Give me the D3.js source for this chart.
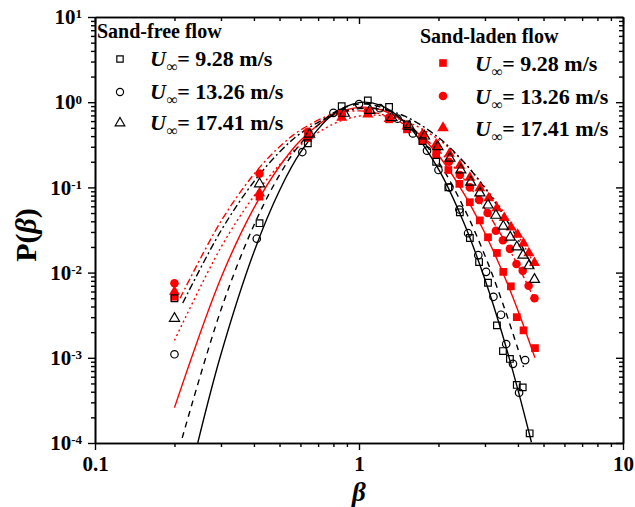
<!DOCTYPE html>
<html>
<head>
<meta charset="utf-8">
<script src="https://cdn.jsdelivr.net/npm/d3@7"></script>
<style>
  body { margin: 0; background: #fff; }
  svg { display: block; font-family: "Liberation Serif", "Times New Roman", serif; font-weight: bold; }
</style>
</head>
<body>
<svg id="chart" width="635" height="507"></svg>
<script>
/* global d3 */

// ---- data ----
const speeds = ['9.28', '13.26', '17.41'];

// sand-free flow (open markers)
const betaFreeSq = [0.2, 0.42, 0.64, 0.86, 1.08, 1.30, 1.52, 1.74, 1.96, 2.18, 2.41, 2.63, 2.85, 3.08, 3.33, 3.51, 3.73, 3.96, 4.17, 4.43];
const pFreeSq = [0.005, 0.038, 0.33, 0.9, 1.05, 0.88, 0.55, 0.35, 0.20, 0.10, 0.051, 0.0255, 0.0133, 0.0076, 0.0024, 0.0012, 0.00097, 0.00048, 0.00045, 0.00013];

const betaFreeCi = [0.2, 0.41, 0.61, 0.80, 1.0, 1.2, 1.4, 1.6, 1.81, 2.0, 2.2, 2.4, 2.59, 2.83, 3.03, 3.23, 3.45, 3.61, 3.83, 4.04, 4.26];
const pFreeCi = [0.0011, 0.025, 0.26, 0.75, 0.95, 0.85, 0.64, 0.43, 0.27, 0.16, 0.10, 0.055, 0.029, 0.016, 0.0102, 0.0052, 0.0032, 0.00145, 0.00085, 0.00039, 0.00094];

const betaFreeTr = [0.2, 0.42, 0.65, 0.88, 1.1, 1.33, 1.55, 1.77, 1.99, 2.21, 2.43, 2.65, 2.87, 3.08, 3.30, 3.52, 3.74, 3.96, 4.18, 4.40, 4.62];
const pFreeTr = [0.0029, 0.11, 0.42, 0.74, 0.80, 0.66, 0.52, 0.40, 0.30, 0.22, 0.16, 0.115, 0.086, 0.062, 0.047, 0.035, 0.026, 0.020, 0.016, 0.012, 0.0083];

// sand-laden flow (filled red markers)
const betaSandSq = [0.2, 0.42, 0.64, 0.86, 1.08, 1.30, 1.52, 1.74, 1.96, 2.18, 2.40, 2.63, 2.87, 3.08, 3.33, 3.52, 3.76, 3.96, 4.2, 4.64];
const pSandSq = [0.0052, 0.078, 0.38, 0.74, 0.76, 0.63, 0.48, 0.35, 0.24, 0.16, 0.11, 0.067, 0.041, 0.026, 0.017, 0.0102, 0.0069, 0.0030, 0.0021, 0.0013];

const betaSandCi = [0.2, 0.42, 0.64, 0.86, 1.08, 1.30, 1.52, 1.75, 1.97, 2.19, 2.41, 2.63, 2.85, 3.07, 3.3, 3.51, 3.73, 3.95, 4.17, 4.39, 4.62];
const pSandCi = [0.0075, 0.145, 0.45, 0.72, 0.78, 0.66, 0.52, 0.41, 0.28, 0.20, 0.14, 0.10, 0.071, 0.05, 0.031, 0.024, 0.019, 0.0126, 0.0105, 0.007, 0.005];

const betaSandTr = [0.2, 0.42, 0.64, 0.86, 1.08, 1.30, 1.52, 1.74, 1.96, 2.2, 2.41, 2.63, 2.87, 3.1, 3.33, 3.55, 3.77, 3.99, 4.2, 4.4, 4.62];
const pSandTr = [0.006, 0.086, 0.40, 0.66, 0.72, 0.64, 0.52, 0.42, 0.32, 0.25, 0.18, 0.13, 0.098, 0.075, 0.057, 0.044, 0.034, 0.028, 0.022, 0.017, 0.013];

// fitted curves, points
const fitFreeSq = [[0.245, 1e-4], [0.3, 1.1e-3], [0.4, 0.0175], [0.5, 0.092], [0.6, 0.257], [0.8, 0.726], [1.0, 0.99], [1.2, 0.925], [1.5, 0.575], [2, 0.164], [2.5, 0.038], [3, 0.0083], [3.5, 0.00184], [4, 4.2e-4], [4.5, 1.02e-4]];
const fitFreeCi = [[0.214, 1.15e-4], [0.3, 0.00366], [0.4, 0.036], [0.5, 0.14], [0.6, 0.324], [0.8, 0.75], [1.0, 0.95], [1.2, 0.88], [1.5, 0.58], [2, 0.198], [2.5, 0.057], [3, 0.0158], [3.5, 0.0044], [4, 0.00127], [4.2, 7.8e-4]];
const fitFreeTr = [[0.215, 0.0044], [0.3, 0.031], [0.4, 0.117], [0.5, 0.26], [0.6, 0.43], [0.8, 0.71], [1.0, 0.84], [1.2, 0.83], [1.5, 0.68], [2, 0.385], [2.5, 0.197], [3, 0.098], [3.5, 0.049], [4, 0.0247], [4.6, 0.0111]];
const fitSandSq = [[0.2, 2.6e-4], [0.3, 0.00865], [0.4, 0.0575], [0.5, 0.177], [0.6, 0.356], [0.8, 0.71], [1.0, 0.87], [1.2, 0.82], [1.5, 0.577], [2, 0.237], [2.5, 0.084], [3, 0.029], [3.5, 0.0101], [4, 0.0036], [4.64, 0.001]];
const fitSandCi = [[0.21, 0.005], [0.3, 0.04], [0.4, 0.143], [0.5, 0.30], [0.6, 0.47], [0.8, 0.73], [1.0, 0.79], [1.2, 0.73], [1.5, 0.54], [2, 0.27], [2.5, 0.125], [3, 0.056], [3.5, 0.0259], [4, 0.0121], [4.6, 0.005]];
const fitSandTr = [[0.2, 0.0016], [0.3, 0.0198], [0.4, 0.079], [0.5, 0.184], [0.6, 0.313], [0.8, 0.556], [1.0, 0.687], [1.2, 0.70], [1.5, 0.60], [2, 0.365], [2.5, 0.196], [3, 0.10], [3.5, 0.053], [4, 0.0275], [4.6, 0.0128]];

const xMajor = [0.1, 1, 10];
const yMajor = [1e-4, 1e-3, 1e-2, 1e-1, 1, 10];

// ---- set up ----
const plot = { left: 95, right: 623, top: 17, bottom: 443 };
const svg = d3.select('#chart');

const x = d3.scaleLog().domain([0.1, 10]).range([plot.left, plot.right]);
const y = d3.scaleLog().domain([1e-4, 10]).range([plot.bottom, plot.top]);

const xMinor = x.ticks().filter(d => !xMajor.some(m => Math.abs(m - d) < 1e-9));
const yMinor = y.ticks().filter(d => !yMajor.some(m => Math.abs(m - d) / m < 1e-9));

svg.append('defs').append('clipPath').attr('id', 'clip')
  .append('rect')
    .attr('x', plot.left).attr('y', plot.top)
    .attr('width', plot.right - plot.left).attr('height', plot.bottom - plot.top);

// ---- axes ----
const axisStyle = g => {
  g.select('.domain').attr('stroke-width', 1.6);
  g.selectAll('.tick line').attr('stroke-width', 1.4);
};

// bottom: ticks outward
svg.append('g').attr('transform', `translate(0,${plot.bottom})`)
  .call(d3.axisBottom(x).tickValues(xMinor).tickSize(4).tickSizeOuter(0).tickFormat(''))
  .call(axisStyle);
const xAx = svg.append('g').attr('transform', `translate(0,${plot.bottom})`)
  .call(d3.axisBottom(x).tickValues(xMajor).tickSize(7).tickSizeOuter(0).tickFormat(d3.format('~g')).tickPadding(6))
  .call(axisStyle);
xAx.selectAll('.tick text')
  .attr('font-size', 21).attr('font-family', '"Liberation Serif", serif').attr('font-weight', 'bold')
  .attr('fill', '#000');

// top: ticks inward
svg.append('g').attr('transform', `translate(0,${plot.top})`)
  .call(d3.axisTop(x).tickValues(xMinor).tickSize(-4).tickSizeOuter(0).tickFormat(''))
  .call(axisStyle);
svg.append('g').attr('transform', `translate(0,${plot.top})`)
  .call(d3.axisTop(x).tickValues(xMajor).tickSize(-7).tickSizeOuter(0).tickFormat(''))
  .call(axisStyle);

// left: ticks outward
svg.append('g').attr('transform', `translate(${plot.left},0)`)
  .call(d3.axisLeft(y).tickValues(yMinor).tickSize(4).tickSizeOuter(0).tickFormat(''))
  .call(axisStyle);
const yAx = svg.append('g').attr('transform', `translate(${plot.left},0)`)
  .call(d3.axisLeft(y).tickValues(yMajor).tickSize(7).tickSizeOuter(0).tickPadding(6))
  .call(axisStyle);
yAx.selectAll('.tick text')
  .attr('font-size', 21).attr('font-family', '"Liberation Serif", serif').attr('font-weight', 'bold')
  .attr('fill', '#000')
  .each(function (d) {
    const t = d3.select(this).text(null);
    t.append('tspan').text('10');
    t.append('tspan').attr('dy', '-0.45em').attr('font-size', 13).text(Math.round(Math.log10(d)));
  });

// right: ticks inward
svg.append('g').attr('transform', `translate(${plot.right},0)`)
  .call(d3.axisRight(y).tickValues(yMinor).tickSize(-4).tickSizeOuter(0).tickFormat(''))
  .call(axisStyle);
svg.append('g').attr('transform', `translate(${plot.right},0)`)
  .call(d3.axisRight(y).tickValues(yMajor).tickSize(-7).tickSizeOuter(0).tickFormat(''))
  .call(axisStyle);

// axis titles
svg.append('text')
  .attr('x', x(1)).attr('y', 501)
  .attr('text-anchor', 'middle').attr('font-size', 27).attr('font-style', 'italic')
  .text('β');

const yTitle = svg.append('text')
  .attr('transform', `translate(36,${(plot.top + plot.bottom) / 2 + 5}) rotate(-90)`)
  .attr('text-anchor', 'middle').attr('font-size', 30);
yTitle.append('tspan').text('P(');
yTitle.append('tspan').attr('font-style', 'italic').text('β');
yTitle.append('tspan').text(')');

// ---- fitted lines ----
const line = d3.line()
  .x(d => x(d[0]))
  .y(d => y(d[1]))
  .curve(d3.curveCatmullRom);

const fits = [
  { data: fitSandTr, color: 'red', dash: '2,3' },
  { data: fitSandCi, color: 'red', dash: '7,3,2,3' },
  { data: fitSandSq, color: 'red', dash: null },
  { data: fitFreeTr, color: '#000', dash: '7,3,2,3' },
  { data: fitFreeCi, color: '#000', dash: '6,5' },
  { data: fitFreeSq, color: '#000', dash: null },
];

svg.append('g').attr('clip-path', 'url(#clip)')
  .selectAll('path')
  .data(fits)
  .enter()
    .append('path')
      .attr('fill', 'none')
      .attr('stroke', d => d.color)
      .attr('stroke-width', 1.4)
      .attr('stroke-dasharray', d => d.dash)
      .attr('d', d => line(d.data));

// ---- markers ----
const series = [
  { beta: betaSandSq, p: pSandSq, type: d3.symbolSquare, size: 60, fill: 'red', stroke: 'none' },
  { beta: betaSandCi, p: pSandCi, type: d3.symbolCircle, size: 58, fill: 'red', stroke: 'none' },
  { beta: betaSandTr, p: pSandTr, type: d3.symbolTriangle, size: 52, fill: 'red', stroke: 'none' },
  { beta: betaFreeSq, p: pFreeSq, type: d3.symbolSquare, size: 44, fill: 'none', stroke: '#000' },
  { beta: betaFreeCi, p: pFreeCi, type: d3.symbolCircle, size: 44, fill: 'none', stroke: '#000' },
  { beta: betaFreeTr, p: pFreeTr, type: d3.symbolTriangle, size: 44, fill: 'none', stroke: '#000' },
];

series.forEach(s => {
  const sym = d3.symbol().type(s.type).size(s.size);
  svg.append('g')
    .selectAll('path')
    .data(s.beta.map((b, i) => [b, s.p[i]]))
    .enter()
      .append('path')
        .attr('transform', d => `translate(${x(d[0])},${y(d[1])})`)
        .attr('d', sym)
        .attr('fill', s.fill)
        .attr('stroke', s.stroke)
        .attr('stroke-width', 1.2);
});

// ---- legends ----
const legendEntry = (g, lx, ly, label) => {
  const t = g.append('text').attr('x', lx).attr('y', ly).attr('font-size', 22);
  t.append('tspan').attr('font-style', 'italic').text('U');
  t.append('tspan').attr('font-style', 'italic').attr('font-size', 16).attr('dy', 6).text('∞');
  t.append('tspan').attr('dy', -6).text(`= ${label} m/s`);
};

const legFree = svg.append('g');
legFree.append('text').attr('x', 97).attr('y', 38).attr('font-size', 20).text('Sand-free flow');
[d3.symbolSquare, d3.symbolCircle, d3.symbolTriangle].forEach((type, i) => {
  const ly = [59, 92, 123][i];
  legFree.append('path')
    .attr('transform', `translate(120,${ly})`)
    .attr('d', d3.symbol().type(type).size(40))
    .attr('fill', 'none').attr('stroke', '#000').attr('stroke-width', 1.2);
  legendEntry(legFree, 150, ly + 7, speeds[i]);
});

const legSand = svg.append('g');
legSand.append('text').attr('x', 420).attr('y', 43).attr('font-size', 20).text('Sand-laden flow');
[d3.symbolSquare, d3.symbolCircle, d3.symbolTriangle].forEach((type, i) => {
  const ly = [63, 96, 128][i];
  legSand.append('path')
    .attr('transform', `translate(443,${ly})`)
    .attr('d', d3.symbol().type(type).size(58))
    .attr('fill', 'red');
  legendEntry(legSand, 475, ly + 8, speeds[i]);
});
</script>
</body>
</html>
